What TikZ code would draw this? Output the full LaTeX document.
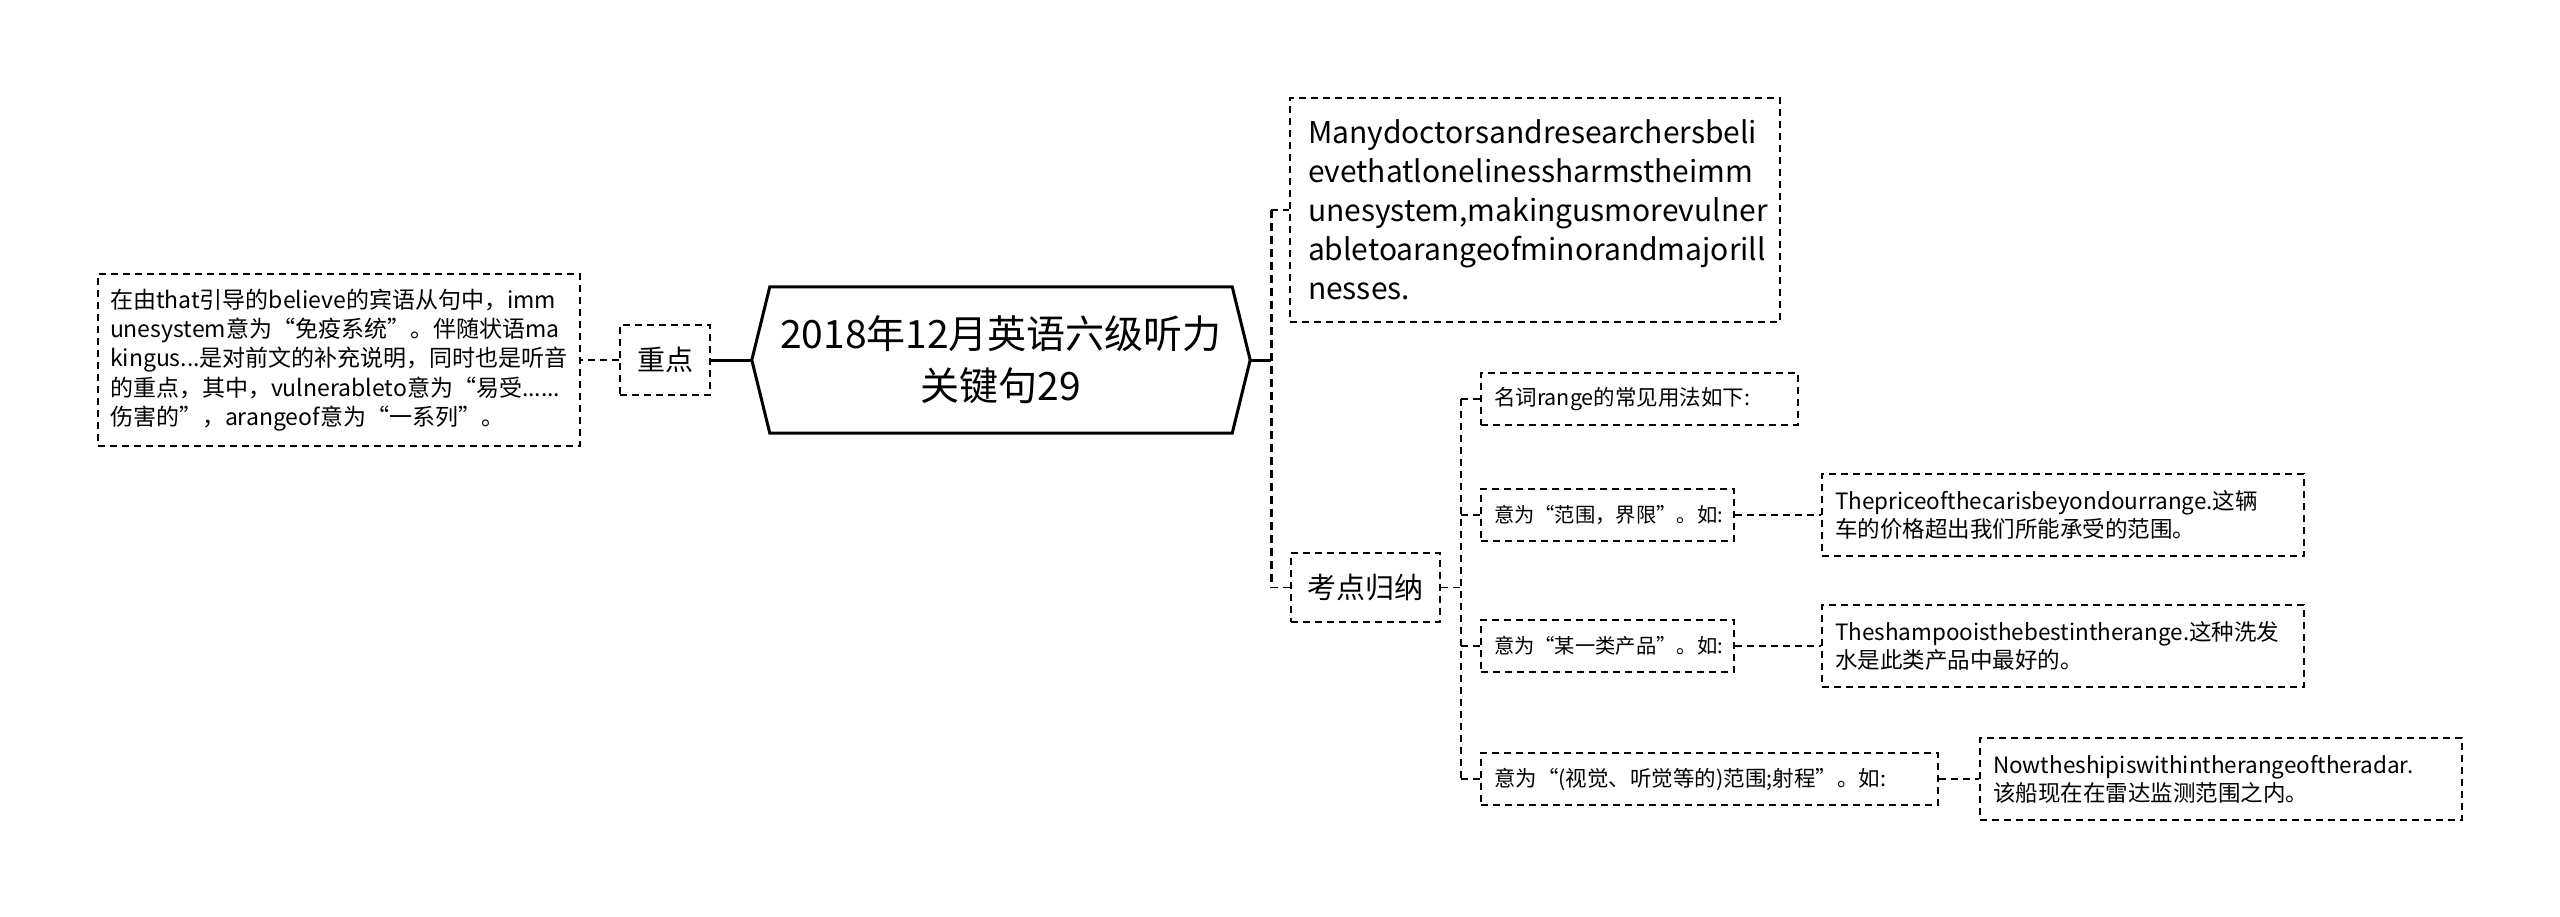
\documentclass[tikz,border=0pt]{standalone}
\usepackage{fontspec}
\setmainfont{Noto Sans CJK SC}
\begin{document}
\begin{tikzpicture}[x=1pt,y=-1pt,
  dline/.style={line width=1.6pt, dash pattern=on 7pt off 5pt},
  trunkline/.style={line width=3pt, dash pattern=on 8pt off 5pt},
  solidline/.style={line width=3pt},
  box/.style={draw, dline, inner xsep=13pt, inner ysep=0pt, align=left},
  cbox/.style={draw, dline, inner xsep=0pt, inner ysep=0pt, align=center},
  small/.style={font=\fontsize{21.5}{28}\selectfont},
  smaller/.style={font=\fontsize{20.3}{28}\selectfont},
  exfont/.style={font=\fontsize{22.5}{28}\selectfont},
]
\useasboundingbox (0,0) rectangle (2560,916);

% root
\node[inner sep=0pt, minimum width=462pt, minimum height=146pt, align=center,
      font=\fontsize{39}{52}\selectfont] (root) at (1001,360)
      {2018年12月英语六级听力\\关键句29};
\draw[solidline, line join=miter] (root.north west) -- (root.north east)
  -- ([xshift=18pt]root.east) -- (root.south east) -- (root.south west)
  -- ([xshift=-18pt]root.west) -- cycle;
\coordinate (rootL) at ([xshift=-18pt]root.west);
\coordinate (rootR) at ([xshift=18pt]root.east);

% left side
\node[cbox, minimum width=90pt, minimum height=70pt,
      font=\fontsize{28}{34}\selectfont] (zd) at (665,360) {重点};
\node[box, inner xsep=12pt, text width=458pt, minimum height=172pt,
      font=\fontsize{23}{29.4}\selectfont] (lb) at (339,360)
 {在由that引导的believe的宾语从句中，imm\\
  unesystem意为“免疫系统”。伴随状语ma\\
  kingus...是对前文的补充说明，同时也是听音\\
  的重点，其中，vulnerableto意为“易受......\\
  伤害的”，arangeof意为“一系列”。};

% right top
\node[box, inner xsep=18pt, text width=454pt, minimum height=224pt,
      font=\fontsize{30}{39}\selectfont] (tb) at (1535,210)
 {Manydoctorsandresearchersbeli\\
  evethatlonelinessharmstheimm\\
  unesystem,makingusmorevulner\\
  abletoarangeofminorandmajorill\\
  nesses.};

% kaodian
\node[cbox, minimum width=149pt, minimum height=69pt,
      font=\fontsize{29}{35}\selectfont] (kd) at (1365.5,587.5) {考点归纳};

% children
\node[box, small, text width=291pt, minimum height=52pt] (c1) at (1639.5,399) {名词range的常见用法如下:};
\node[box, smaller, text width=227pt, minimum height=52pt] (c2) at (1607.5,515) {意为“范围，界限”。如:};
\node[box, smaller, text width=227pt, minimum height=52pt] (c3) at (1607.5,646) {意为“某一类产品”。如:};
\node[box, small, text width=431pt, minimum height=52pt] (c4) at (1709.5,779) {意为“(视觉、听觉等的)范围;射程”。如:};

\node[box, exfont, text width=456pt, minimum height=82pt] (e1) at (2063,515)
 {Thepriceofthecarisbeyondourrange.这辆\\车的价格超出我们所能承受的范围。};
\node[box, exfont, text width=456pt, minimum height=82pt] (e2) at (2063,646)
 {Theshampooisthebestintherange.这种洗发\\水是此类产品中最好的。};
\node[box, exfont, text width=456pt, minimum height=82pt] (e3) at (2221,779)
 {Nowtheshipiswithintherangeoftheradar.\\该船现在在雷达监测范围之内。};

% connectors left
\draw[solidline] (rootL) -- (zd.east);
\draw[dline] (zd.west) -- (lb.east);

% connectors right of root
\coordinate (j1) at ([xshift=21pt]rootR);
\draw[solidline] (rootR) -- (j1);
\draw[trunkline] (j1 |- tb.west) -- (j1 |- kd.west);
\draw[dline] (j1 |- tb.west) -- (tb.west);
\draw[dline] (j1 |- kd.west) -- (kd.west);

% connectors from kaodian
\coordinate (j2) at ([xshift=20pt]kd.east);
\draw[dline] (kd.east) -- (j2);
\draw[dline] (j2 |- c1.west) -- (j2 |- c4.west);
\draw[dline] (j2 |- c1.west) -- (c1.west);
\draw[dline] (j2 |- c2.west) -- (c2.west);
\draw[dline] (j2 |- c3.west) -- (c3.west);
\draw[dline] (j2 |- c4.west) -- (c4.west);

% examples
\draw[dline] (c2.east) -- (e1.west);
\draw[dline] (c3.east) -- (e2.west);
\draw[dline] (c4.east) -- (e3.west);
\end{tikzpicture}
\end{document}
